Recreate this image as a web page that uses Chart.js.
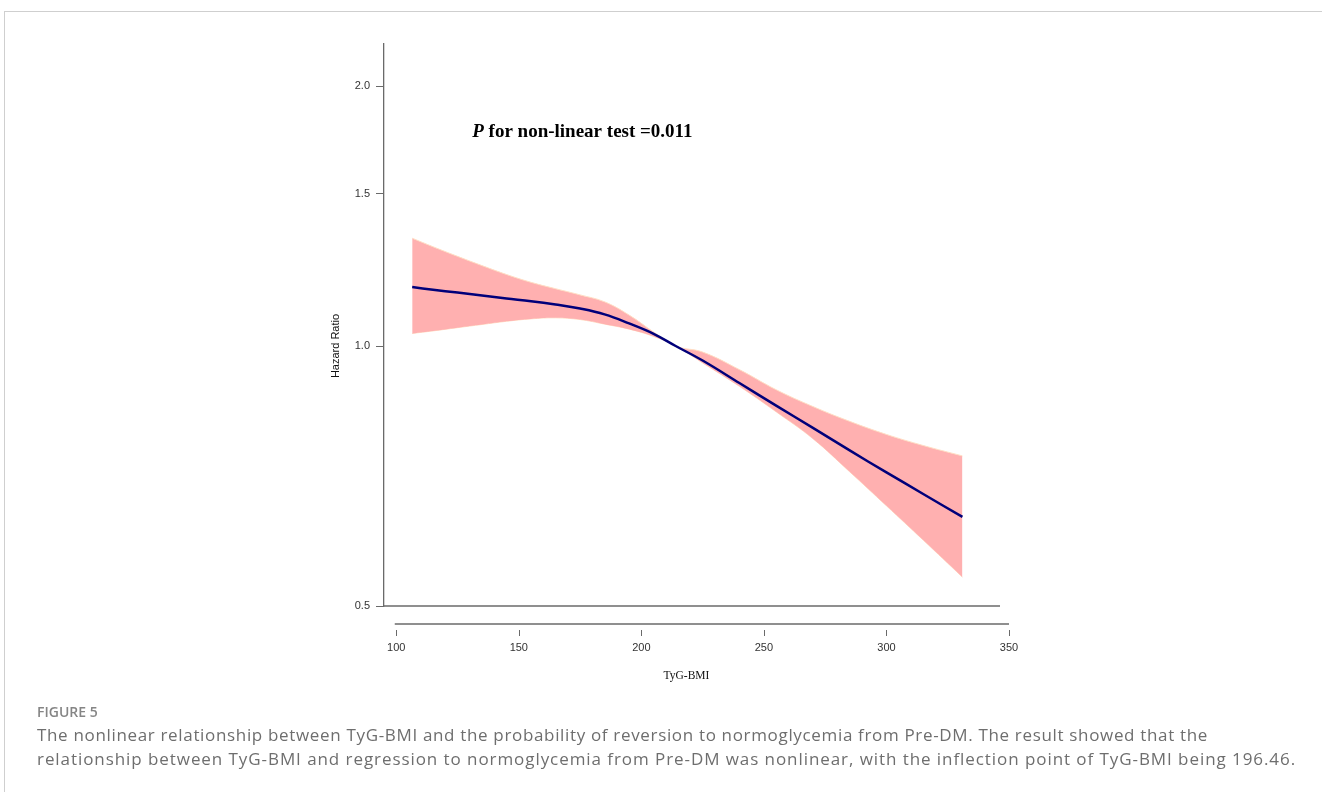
<!DOCTYPE html>
<html>
<head>
<meta charset="utf-8">
<script src="https://cdn.jsdelivr.net/npm/chart.js@4.4.1/dist/chart.umd.min.js"></script>
<style>
  html, body { margin: 0; padding: 0; background: #fff; }
  body { width: 1322px; height: 792px; position: relative; overflow: hidden; }
  #c { position: absolute; left: 0; top: 0; }
  .frame { position: absolute; left: 4px; top: 11px; width: 1330px; height: 800px;
           border-top: 1px solid #cfcfcf; border-left: 1px solid #cfcfcf; }
  .figlabel { position: absolute; left: 37px; top: 703px; font-family: "Open Sans", sans-serif;
              font-size: 14px; line-height: 18px; color: #858585; font-weight: 600; white-space: nowrap; }
  .capline { position: absolute; left: 37px; font-family: "Open Sans", sans-serif; font-size: 17px;
             line-height: 24px; color: #6e6e6e; white-space: nowrap; }
</style>
</head>
<body>
<div class="frame"></div>
<canvas id="c" width="1322" height="792"></canvas>
<div class="figlabel">FIGURE 5</div>
<div class="capline" id="cap1" style="top:723px">The nonlinear relationship between TyG-BMI and the probability of reversion to normoglycemia from Pre-DM. The result showed that the</div>
<div class="capline" id="cap2" style="top:747px">relationship between TyG-BMI and regression to normoglycemia from Pre-DM was nonlinear, with the inflection point of TyG-BMI being 196.46.</div>
<script>
// ---- data ----
const tygBmi   = [106.5, 115, 125, 135, 145, 155, 165, 175, 185, 195, 205, 214, 225, 240, 255, 270, 285, 300, 315, 331];
const hazard   = [1.170, 1.162, 1.153, 1.144, 1.135, 1.127, 1.117, 1.105, 1.088, 1.062, 1.033, 1.000, 0.962, 0.906, 0.853, 0.804, 0.757, 0.714, 0.674, 0.634];
const ciUpper  = [1.333, 1.303, 1.270, 1.239, 1.210, 1.185, 1.165, 1.146, 1.125, 1.086, 1.038, 1.000, 0.984, 0.939, 0.890, 0.851, 0.818, 0.790, 0.767, 0.746];
const ciLower  = [1.034, 1.041, 1.050, 1.059, 1.068, 1.075, 1.078, 1.073, 1.060, 1.046, 1.026, 1.000, 0.956, 0.898, 0.839, 0.781, 0.715, 0.653, 0.596, 0.540];
const xTickValues = [100, 150, 200, 250, 300, 350];
const yTickValues = [0.5, 1.0, 1.5, 2.0];
const pLabelItalic = 'P';
const pLabelRest = ' for non-linear test =0.011';
const xTitle = 'TyG-BMI';
const yTitle = 'Hazard Ratio';
const pLabelAt = { x: 131, y: 1.745 };

const toPts = arr => tygBmi.map((x, i) => ({ x: x, y: arr[i] }));

const extras = {
  id: 'extras',
  afterDraw(chart) {
    const { ctx, chartArea, scales } = chart;
    const xs = scales.x, ys = scales.y;
    ctx.save();
    ctx.strokeStyle = '#6a6a6a';
    // plot frame bottom line
    ctx.lineWidth = 1.3;
    ctx.beginPath(); ctx.moveTo(chartArea.left, chartArea.bottom); ctx.lineTo(chartArea.right - 9, chartArea.bottom); ctx.stroke();
    // separated x axis line and tick marks
    const yLine = chartArea.bottom + 18;
    const x0 = xs.getPixelForValue(xTickValues[0]);
    const x1 = xs.getPixelForValue(xTickValues[xTickValues.length - 1]);
    ctx.beginPath(); ctx.moveTo(x0 - 1.5, yLine); ctx.lineTo(x1, yLine); ctx.stroke();
    ctx.lineWidth = 1;
    xTickValues.forEach(v => {
      const p = Math.round(xs.getPixelForValue(v)) + 0.5;
      ctx.beginPath(); ctx.moveTo(p, yLine + 6); ctx.lineTo(p, yLine + 12); ctx.stroke();
    });
    // P annotation
    ctx.fillStyle = '#000';
    ctx.textBaseline = 'alphabetic';
    ctx.textAlign = 'left';
    const px = xs.getPixelForValue(pLabelAt.x), py = ys.getPixelForValue(pLabelAt.y);
    ctx.font = 'italic bold 19px "Liberation Serif", "Times New Roman", serif';
    ctx.fillText(pLabelItalic, px, py);
    const w = ctx.measureText(pLabelItalic).width;
    ctx.font = 'bold 19px "Liberation Serif", "Times New Roman", serif';
    ctx.fillText(pLabelRest, px + w, py);
    // x title
    ctx.font = '11.5px "Liberation Serif", "Times New Roman", serif';
    ctx.textAlign = 'center';
    ctx.textBaseline = 'middle';
    ctx.fillStyle = '#111';
    ctx.fillText(xTitle, (chartArea.left + chartArea.right) / 2 - 10, chartArea.bottom + 70);
    // y title
    ctx.translate(chartArea.left - 48.5, ys.getPixelForValue(1.0));
    ctx.rotate(-Math.PI / 2);
    ctx.font = '11px "Liberation Sans", Arial, sans-serif';
    ctx.fillText(yTitle, 0, 0);
    ctx.restore();
  }
};

new Chart(document.getElementById('c'), {
  type: 'line',
  data: {
    datasets: [
      { label: 'HR', data: toPts(hazard), borderColor: '#00007a', borderWidth: 2.5,
        pointRadius: 0, fill: false, tension: 0.4 },
      { label: 'upper', data: toPts(ciUpper), borderColor: 'rgba(255,222,196,1)', borderWidth: 1,
        backgroundColor: '#ffb0b0', pointRadius: 0, fill: '+1', tension: 0.4 },
      { label: 'lower', data: toPts(ciLower), borderColor: 'rgba(255,222,196,1)', borderWidth: 1,
        pointRadius: 0, fill: false, tension: 0.4 }
    ]
  },
  options: {
    responsive: false,
    animation: false,
    devicePixelRatio: 1,
    layout: { padding: { left: 0, top: 44, right: 313, bottom: 116 } },
    plugins: { legend: { display: false }, tooltip: { enabled: false } },
    scales: {
      x: {
        type: 'linear', min: 95, max: 350,
        afterBuildTicks: s => { s.ticks = xTickValues.map(v => ({ value: v })); },
        afterFit: s => { s.height = 70; },
        grid: { display: false },
        border: { display: false },
        ticks: { padding: 27, color: '#333', font: { family: '"Liberation Sans", Arial, sans-serif', size: 11 },
                 maxRotation: 0, autoSkip: false, callback: v => String(v) }
      },
      y: {
        type: 'logarithmic', min: 0.5, max: 2.237,
        afterBuildTicks: s => { s.ticks = yTickValues.map(v => ({ value: v })); },
        afterFit: s => { s.width = 384; },
        grid: { display: true, drawOnChartArea: false, drawTicks: true, tickLength: 8, color: '#6a6a6a', lineWidth: 1 },
        border: { display: true, color: '#6a6a6a', width: 1.3 },
        ticks: { padding: 6, color: '#333', font: { family: '"Liberation Sans", Arial, sans-serif', size: 11 },
                 autoSkip: false, callback: v => Number(v).toFixed(1) }
      }
    }
  },
  plugins: [extras]
});

// fit caption lines to the reference widths
function fitLine(id, targetRight) {
  const el = document.getElementById(id);
  const r = el.getBoundingClientRect();
  const n = el.textContent.length;
  const ls = (targetRight - r.left - r.width) / n;
  el.style.letterSpacing = ls.toFixed(3) + 'px';
}
fitLine('cap1', 1208);
fitLine('cap2', 1296);
</script>
</body>
</html>
